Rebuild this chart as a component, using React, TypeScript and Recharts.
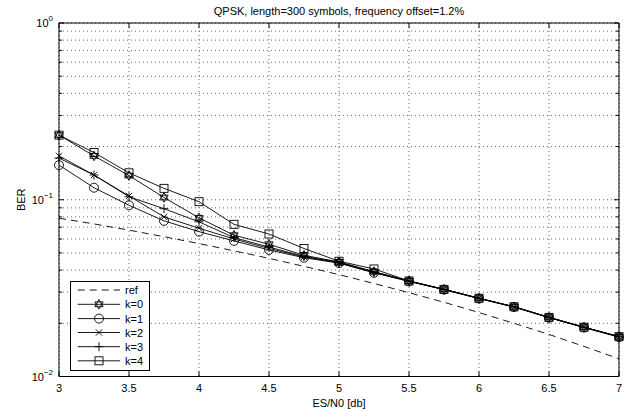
import React from 'react';
import { LineChart, Line, XAxis, YAxis, CartesianGrid, Legend } from 'recharts';

const esn0 = [3, 3.25, 3.5, 3.75, 4, 4.25, 4.5, 4.75, 5, 5.25, 5.5, 5.75, 6, 6.25, 6.5, 6.75, 7];
const berRef = [0.0786, 0.073, 0.0673, 0.0618, 0.0565, 0.0514, 0.0466, 0.042, 0.0377, 0.0336, 0.0298, 0.0263, 0.023, 0.02, 0.0173, 0.0148, 0.0126];
const berK0 = [0.232, 0.177, 0.137, 0.103, 0.079, 0.063, 0.056, 0.0485, 0.0445, 0.0392, 0.0347, 0.0311, 0.0277, 0.0248, 0.0216, 0.019, 0.0168];
const berK1 = [0.157, 0.117, 0.093, 0.076, 0.066, 0.0585, 0.052, 0.047, 0.0438, 0.0386, 0.0345, 0.031, 0.0276, 0.0247, 0.0215, 0.0189, 0.0167];
const berK2 = [0.177, 0.138, 0.105, 0.08, 0.069, 0.06, 0.053, 0.0475, 0.044, 0.0388, 0.0346, 0.0311, 0.0277, 0.0248, 0.0216, 0.019, 0.0168];
const berK3 = [0.172, 0.138, 0.104, 0.089, 0.075, 0.061, 0.054, 0.0478, 0.0442, 0.039, 0.0347, 0.0311, 0.0277, 0.0248, 0.0216, 0.019, 0.0168];
const berK4 = [0.232, 0.185, 0.142, 0.116, 0.0975, 0.0726, 0.064, 0.053, 0.0449, 0.0406, 0.0347, 0.0311, 0.0277, 0.0248, 0.0216, 0.019, 0.0168];

const xTicks = [3, 3.5, 4, 4.5, 5, 5.5, 6, 6.5, 7];
const yTicks = [0.01, 0.02, 0.03, 0.04, 0.05, 0.06, 0.07, 0.08, 0.09, 0.1, 0.2, 0.3, 0.4, 0.5, 0.6, 0.7, 0.8, 0.9, 1];
const yMajor = [0.01, 0.1, 1];

const titleText = 'QPSK, length=300 symbols, frequency offset=1.2%';
const xLabelText = 'ES/N0 [db]';
const yLabelText = 'BER';

const seriesDefs = [
  { key: 'ref', name: 'ref', marker: 'none', dashed: true },
  { key: 'k0', name: 'k=0', marker: 'star', dashed: false },
  { key: 'k1', name: 'k=1', marker: 'circle', dashed: false },
  { key: 'k2', name: 'k=2', marker: 'x', dashed: false },
  { key: 'k3', name: 'k=3', marker: 'plus', dashed: false },
  { key: 'k4', name: 'k=4', marker: 'square', dashed: false },
];

const data = esn0.map((x, i) => ({
  x,
  ref: berRef[i],
  k0: berK0[i],
  k1: berK1[i],
  k2: berK2[i],
  k3: berK3[i],
  k4: berK4[i],
}));

const FONT = '"Liberation Sans", Arial, Helvetica, sans-serif';
const SW = 0.9;

function Marker({ kind, cx, cy }: { kind: string; cx: number; cy: number }) {
  if (cx == null || cy == null || isNaN(cx) || isNaN(cy)) return <g />;
  const st = { stroke: '#000', strokeWidth: SW, fill: 'none' };
  if (kind === 'star') {
    const r = 4.8;
    const a = r * 0.866;
    const up = `${cx},${cy - r} ${cx + a},${cy + r / 2} ${cx - a},${cy + r / 2}`;
    const dn = `${cx},${cy + r} ${cx + a},${cy - r / 2} ${cx - a},${cy - r / 2}`;
    return (
      <g>
        <polygon points={up} {...st} />
        <polygon points={dn} {...st} />
      </g>
    );
  }
  if (kind === 'circle') return <circle cx={cx} cy={cy} r={4.5} {...st} />;
  if (kind === 'square') return <rect x={cx - 4} y={cy - 4} width={8} height={8} {...st} />;
  if (kind === 'x') {
    const h = 3.2;
    return (
      <g>
        <line x1={cx - h} y1={cy - h} x2={cx + h} y2={cy + h} {...st} />
        <line x1={cx - h} y1={cy + h} x2={cx + h} y2={cy - h} {...st} />
      </g>
    );
  }
  if (kind === 'plus') {
    const h = 4.5;
    return (
      <g>
        <line x1={cx - h} y1={cy} x2={cx + h} y2={cy} {...st} />
        <line x1={cx} y1={cy - h} x2={cx} y2={cy + h} {...st} />
      </g>
    );
  }
  return <g />;
}

const LeftTick = (props: any) => {
  const { x, y, payload } = props;
  const v = payload.value;
  const major = yMajor.includes(v);
  const exp = Math.round(Math.log10(v));
  return (
    <g>
      <line x1={x} y1={y} x2={x + (major ? 5 : 3)} y2={y} stroke="#000" strokeWidth={1} />
      {major && (
        <text x={x - 6} y={y + 4} textAnchor="end" fontSize={11} fontFamily={FONT} fill="#000">
          10
          <tspan dy={-6} fontSize={8}>{exp === 0 ? '0' : '\u2212' + String(-exp)}</tspan>
        </text>
      )}
    </g>
  );
};

const RightTick = (props: any) => {
  const { x, y, payload } = props;
  const major = yMajor.includes(payload.value);
  return <line x1={x} y1={y} x2={x - (major ? 5 : 3)} y2={y} stroke="#000" strokeWidth={1} />;
};

const BottomTick = (props: any) => {
  const { x, y, payload } = props;
  return (
    <g>
      <line x1={x} y1={y} x2={x} y2={y - 5} stroke="#000" strokeWidth={1} />
      <text x={x} y={y + 15.5} textAnchor="middle" fontSize={11} fontFamily={FONT} fill="#000">
        {String(payload.value)}
      </text>
    </g>
  );
};

const TopTick = (props: any) => {
  const { x, y } = props;
  return <line x1={x} y1={y} x2={x} y2={y + 5} stroke="#000" strokeWidth={1} />;
};

const rowY = [9, 23.3, 37.6, 51.5, 65.7, 79.8];

const LegendBox = () => (
  <svg width={80} height={90} style={{ display: 'block', overflow: 'visible' }}>
    <rect x={0.5} y={0.5} width={79} height={89} fill="#fff" stroke="#000" strokeWidth={1} />
    {seriesDefs.map((s, i) => (
      <g key={s.key}>
        <line
          x1={7.7}
          x2={50}
          y1={rowY[i]}
          y2={rowY[i]}
          stroke="#000"
          strokeWidth={SW}
          strokeDasharray={s.dashed ? '7 5' : undefined}
        />
        <Marker kind={s.marker} cx={29} cy={rowY[i]} />
        <text x={55} y={rowY[i] + 4} fontSize={11} fontFamily={FONT} fill="#000">
          {s.name}
        </text>
      </g>
    ))}
  </svg>
);

export default function App() {
  return (
    <div style={{ position: 'absolute', left: 0, top: 0, width: 627, height: 420, background: '#fff', fontFamily: FONT }}>
      <LineChart width={627} height={420} data={data} margin={{ top: 22, right: 7, bottom: 0, left: 0 }}>
        <CartesianGrid
          xAxisId="bottom"
          yAxisId="left"
          stroke="#666"
          strokeDasharray="1 3"
          strokeWidth={1}
        />
        <XAxis
          xAxisId="bottom"
          dataKey="x"
          type="number"
          domain={[3, 7]}
          ticks={xTicks}
          height={43.5}
          tickSize={0}
          tickMargin={0}
          tickLine={false}
          tick={BottomTick}
          axisLine={{ stroke: '#000', strokeWidth: 1 }}
          interval={0}
          label={{ value: xLabelText, position: 'insideBottom', offset: 13, fontSize: 11, fill: '#000', fontFamily: FONT }}
        />
        <XAxis
          xAxisId="top"
          orientation="top"
          dataKey="x"
          type="number"
          domain={[3, 7]}
          ticks={xTicks}
          height={1}
          tickSize={0}
          tickMargin={0}
          tickLine={false}
          tick={TopTick}
          axisLine={{ stroke: '#000', strokeWidth: 1 }}
          interval={0}
          label={{ value: titleText, position: 'top', offset: 7, fontSize: 11, fill: '#000', fontFamily: FONT }}
        />
        <YAxis
          yAxisId="left"
          type="number"
          scale="log"
          domain={[0.01, 1]}
          allowDataOverflow
          ticks={yTicks}
          width={59}
          tickSize={0}
          tickMargin={0}
          tickLine={false}
          tick={LeftTick}
          axisLine={{ stroke: '#000', strokeWidth: 1 }}
          interval={0}
          label={{ value: yLabelText, angle: -90, position: 'insideLeft', offset: 21, fontSize: 11, fill: '#000', fontFamily: FONT, style: { textAnchor: 'middle' } }}
        />
        <YAxis
          yAxisId="right"
          orientation="right"
          type="number"
          scale="log"
          domain={[0.01, 1]}
          allowDataOverflow
          ticks={yTicks}
          width={1}
          tickSize={0}
          tickMargin={0}
          tickLine={false}
          tick={RightTick}
          axisLine={{ stroke: '#000', strokeWidth: 1 }}
          interval={0}
        />
        {seriesDefs.map((s) => (
          <Line
            key={s.key}
            xAxisId="bottom"
            yAxisId="left"
            dataKey={s.key}
            name={s.name}
            type="linear"
            stroke="#000"
            strokeWidth={SW}
            strokeDasharray={s.dashed ? '7 5' : undefined}
            isAnimationActive={false}
            activeDot={false}
            dot={
              s.marker === 'none'
                ? false
                : (p: any) => <Marker key={`${s.key}-${p.index}`} kind={s.marker} cx={p.cx} cy={p.cy} />
            }
          />
        ))}
        <Legend
          layout="vertical"
          align="center"
          verticalAlign="middle"
          wrapperStyle={{ left: 70, top: 281, width: 80, height: 90 }}
          content={() => <LegendBox />}
        />
      </LineChart>
    </div>
  );
}
